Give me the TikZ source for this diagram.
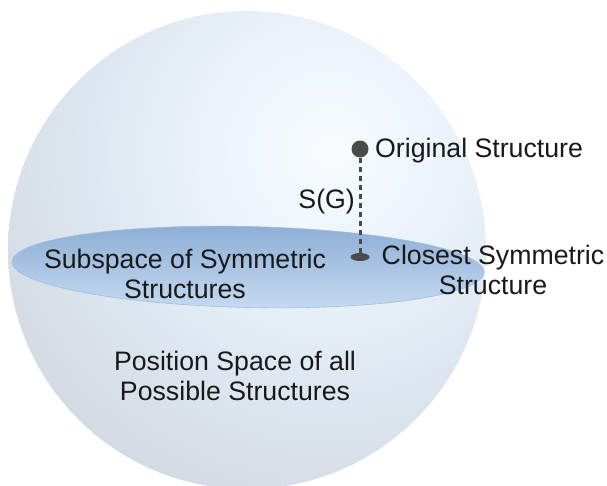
\documentclass[tikz,border=0pt]{standalone}
\usepackage{fontspec}
\setmainfont{Liberation Sans}
\usetikzlibrary{shapes.geometric}
\definecolor{dotgray}{HTML}{4A4A4A}
\definecolor{hl}{HTML}{F9FCFF}
\definecolor{s1}{HTML}{EEF5FC}
\definecolor{s2}{HTML}{DEE7F1}
\definecolor{s3}{HTML}{D1D7DF}
\definecolor{s4}{HTML}{C8CBD0}
\definecolor{eltop}{HTML}{8CADD5}
\definecolor{elbot}{HTML}{C6DBF1}
\definecolor{eledge}{HTML}{9EBDE0}
\pgfdeclareradialshading{sphereshade}{\pgfpoint{0bp}{0bp}}{%
  color(0bp)=(hl); color(6bp)=(s1); color(16bp)=(s2); color(27bp)=(s3); color(37bp)=(s4); color(50bp)=(s4)}
\begin{document}
\begin{tikzpicture}[x=1pt,y=-1pt,
  lbl/.style={inner sep=0pt, align=center, font=\fontsize{26.7}{29.5}\selectfont, text=black!90},
  dotnode/.style={ellipse, fill=dotgray, draw=none, inner sep=0pt},
  conn/.style={draw=dotgray, line width=3pt, dash pattern=on 5pt off 4pt}]
\useasboundingbox (0,0) rectangle (607,485);
% sphere
\begin{scope}
  \clip (247,250) circle[radius=239];
  \shade[shading=sphereshade] (330,152) circle[radius=370];
\end{scope}
% subspace ellipse
\shade[top color=eltop, bottom color=elbot, draw=eledge, line width=0.6pt, rotate around={-1.3:(248,267)}]
  (248,267) ellipse[x radius=236, y radius=40.5];
% points
\node[dotnode, minimum width=17pt, minimum height=17pt] (orig) at (360,149) {};
\node[dotnode, minimum width=19pt, minimum height=8pt] (closest) at (360,257) {};
\draw[conn] (orig) -- (closest);
% labels
\node[lbl, anchor=base west] (origlbl) at (375,157) {Original Structure};
\node[lbl, anchor=base east] (sglbl) at (355,208) {S(G)};
\node[lbl, anchor=base] (closestlbl) at (493,294) {Closest Symmetric\\Structure};
\node[lbl, anchor=base] (sublbl) at (185,298) {Subspace of Symmetric\\Structures};
\node[lbl, anchor=base] (poslbl) at (235,400) {Position Space of all\\Possible Structures};
\end{tikzpicture}
\end{document}
